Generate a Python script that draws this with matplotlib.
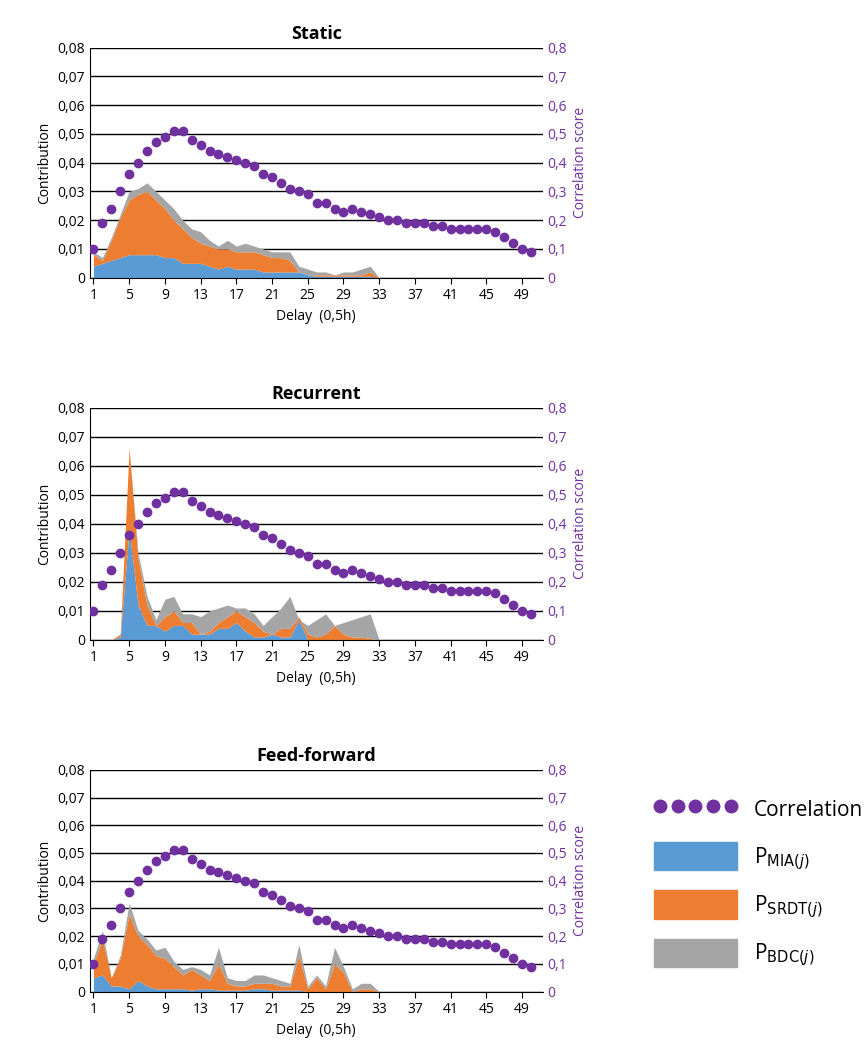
import matplotlib.pyplot as plt
import numpy as np
from matplotlib.lines import Line2D
from matplotlib.patches import Patch
from matplotlib.ticker import FuncFormatter

plt.rcParams['font.family'] = ['Open Sans', 'DejaVu Sans']

delays = np.arange(1, 51)
correlation = [0.10, 0.19, 0.24, 0.30, 0.36, 0.40, 0.44, 0.47, 0.49, 0.51,
               0.51, 0.48, 0.46, 0.44, 0.43, 0.42, 0.41, 0.40, 0.39, 0.36,
               0.35, 0.33, 0.31, 0.30, 0.29, 0.26, 0.26, 0.24, 0.23, 0.24,
               0.23, 0.22, 0.21, 0.20, 0.20, 0.19, 0.19, 0.19, 0.18, 0.18,
               0.17, 0.17, 0.17, 0.17, 0.17, 0.16, 0.14, 0.12, 0.10, 0.09]

area_x = np.arange(1, 34)

# stacked tops: MIA, MIA+SRDT, MIA+SRDT+BDC
static_mia = [0.004, 0.005, 0.006, 0.007, 0.008, 0.008, 0.008, 0.008, 0.007, 0.007,
              0.005, 0.005, 0.005, 0.004, 0.003, 0.004, 0.003, 0.003, 0.003, 0.002,
              0.002, 0.002, 0.002, 0.002, 0.001, 0.0005, 0.0005, 0.0005, 0.0005, 0.0005,
              0.0005, 0.0005, 0]
static_srdt = [0.008, 0.006, 0.013, 0.021, 0.027, 0.029, 0.030, 0.027, 0.024, 0.020,
               0.017, 0.014, 0.012, 0.011, 0.010, 0.010, 0.009, 0.009, 0.009, 0.008,
               0.007, 0.007, 0.006, 0.002, 0.001, 0.001, 0.001, 0.001, 0.001, 0.001,
               0.001, 0.002, 0]
static_bdc = [0.009, 0.007, 0.014, 0.022, 0.030, 0.031, 0.033, 0.030, 0.027, 0.024,
              0.020, 0.017, 0.016, 0.013, 0.011, 0.013, 0.011, 0.012, 0.011, 0.010,
              0.009, 0.009, 0.009, 0.004, 0.003, 0.002, 0.002, 0.001, 0.002, 0.002,
              0.003, 0.004, 0]

rec_mia = [0, 0, 0, 0.001, 0.038, 0.012, 0.005, 0.005, 0.003, 0.005,
           0.005, 0.002, 0.002, 0.002, 0.004, 0.004, 0.006, 0.003, 0.001, 0.001,
           0.002, 0.001, 0.001, 0.007, 0, 0, 0, 0, 0, 0,
           0, 0, 0]
rec_srdt = [0, 0, 0, 0.002, 0.066, 0.028, 0.012, 0.005, 0.008, 0.010,
            0.006, 0.006, 0.002, 0.003, 0.006, 0.008, 0.010, 0.008, 0.006, 0.003,
            0.002, 0.004, 0.004, 0.008, 0.002, 0.001, 0.002, 0.005, 0.002, 0.001,
            0.001, 0.0005, 0]
rec_bdc = [0, 0, 0, 0.002, 0.066, 0.030, 0.015, 0.007, 0.014, 0.015,
           0.009, 0.009, 0.008, 0.010, 0.011, 0.012, 0.011, 0.011, 0.009, 0.005,
           0.008, 0.011, 0.015, 0.007, 0.005, 0.007, 0.009, 0.005, 0.006, 0.007,
           0.008, 0.009, 0]

ff_mia = [0.005, 0.006, 0.002, 0.002, 0.001, 0.004, 0.002, 0.001, 0.001, 0.001,
          0.001, 0.0005, 0.001, 0.001, 0.0005, 0.0005, 0.0005, 0.0005, 0.001, 0.001,
          0.0005, 0.0005, 0.0005, 0.0005, 0, 0, 0, 0, 0, 0,
          0, 0, 0]
ff_srdt = [0.010, 0.019, 0.005, 0.012, 0.028, 0.020, 0.017, 0.013, 0.012, 0.009,
           0.006, 0.008, 0.006, 0.004, 0.010, 0.003, 0.002, 0.002, 0.003, 0.003,
           0.003, 0.002, 0.002, 0.013, 0.001, 0.005, 0.001, 0.010, 0.007, 0.000,
           0.001, 0.001, 0]
ff_bdc = [0.012, 0.022, 0.005, 0.013, 0.032, 0.022, 0.019, 0.015, 0.016, 0.011,
          0.008, 0.009, 0.008, 0.006, 0.016, 0.005, 0.004, 0.004, 0.006, 0.006,
          0.005, 0.004, 0.003, 0.017, 0.002, 0.006, 0.002, 0.016, 0.009, 0.001,
          0.003, 0.003, 0]

panels = [
    ("Static", static_mia, static_srdt, static_bdc, [0.737, 0.218]),
    ("Recurrent", rec_mia, rec_srdt, rec_bdc, [0.394, 0.220]),
    ("Feed-forward", ff_mia, ff_srdt, ff_bdc, [0.061, 0.210]),
]

blue, orange, gray, purple = '#5B9BD5', '#ED7D31', '#A5A5A5', '#7030A0'
comma = lambda d: FuncFormatter(lambda v, p: '0' if abs(v) < 1e-9 else f"{v:.{d}f}".replace('.', ','))

fig = plt.figure(figsize=(8.64, 10.56), dpi=100)
for title, mia, srdt, bdc, (b, h) in panels:
    ax = fig.add_axes([0.104, b, 0.524, h])
    ax.fill_between(area_x, 0, mia, color=blue, lw=0)
    ax.fill_between(area_x, mia, srdt, color=orange, lw=0)
    ax.fill_between(area_x, srdt, bdc, color=gray, lw=0)
    ax.set_xlim(0.6, 51.3)
    ax.set_ylim(0, 0.08)
    ax.set_yticks(np.arange(0, 0.081, 0.01))
    ax.yaxis.set_major_formatter(comma(2))
    ax.set_xticks(np.arange(1, 51, 4))
    ax.grid(axis='y', color='black', lw=1)
    ax.set_axisbelow(True)
    for s in ['top', 'right']:
        ax.spines[s].set_visible(False)
    ax.tick_params(labelsize=10, length=4)
    ax.tick_params(axis='y', length=0)
    ax.set_ylabel("Contribution", fontsize=10)
    ax.set_xlabel("Delay  (0,5h)", fontsize=10)
    ax.set_title(title, fontsize=13, fontweight='bold')

    ax2 = ax.twinx()
    ax2.plot(delays, correlation, 'o', color=purple, ms=6)
    ax2.set_ylim(0, 0.8)
    ax2.set_yticks(np.arange(0, 0.81, 0.1))
    ax2.yaxis.set_major_formatter(comma(1))
    ax2.tick_params(axis='y', colors=purple, labelsize=10, length=0)
    for s in ['top', 'right', 'left', 'bottom']:
        ax2.spines[s].set_visible(False)
    ax2.set_ylabel("Correlation score", color=purple, fontsize=10)

handles = [
    Line2D([], [], ls='none', marker='o', color=purple, ms=9),
    Patch(color=blue), Patch(color=orange), Patch(color=gray),
]
labels = ["Correlation", r"P$_{\mathrm{MIA}(\mathit{j})}$",
          r"P$_{\mathrm{SRDT}(\mathit{j})}$", r"P$_{\mathrm{BDC}(\mathit{j})}$"]
fig.legend(handles, labels, loc='center left', bbox_to_anchor=(0.735, 0.165),
           frameon=False, fontsize=15, numpoints=5, handlelength=4,
           handleheight=1.7, labelspacing=0.9)

fig.savefig("out.png", dpi=100)
